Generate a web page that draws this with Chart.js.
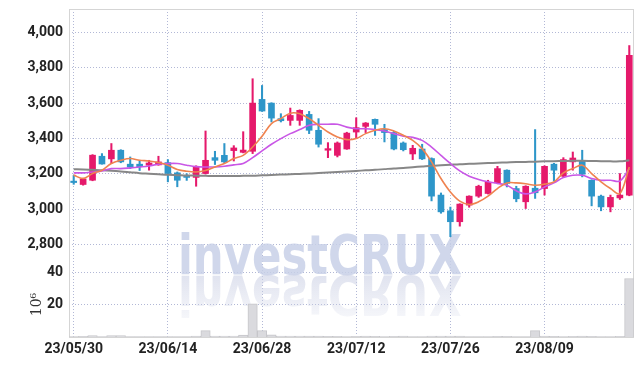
<!DOCTYPE html>
<html>
<head>
<meta charset="utf-8">
<script src="https://cdn.jsdelivr.net/npm/chart.js@4.4.0/dist/chart.umd.min.js"></script>
<style>
html, body { margin: 0; padding: 0; background: #fff; }
#wrap { width: 643px; height: 366px; }
</style>
</head>
<body>
<div id="wrap"><canvas id="chart"></canvas></div>
<script>
const dates = [
  '23/05/30','23/05/31','23/06/01','23/06/02','23/06/05','23/06/07','23/06/08','23/06/09','23/06/12','23/06/13',
  '23/06/14','23/06/15','23/06/16','23/06/19','23/06/20','23/06/21','23/06/22','23/06/23','23/06/26','23/06/27',
  '23/06/28','23/06/29','23/06/30','23/07/03','23/07/04','23/07/05','23/07/06','23/07/07','23/07/10','23/07/11',
  '23/07/12','23/07/13','23/07/14','23/07/17','23/07/18','23/07/19','23/07/20','23/07/21','23/07/24','23/07/25',
  '23/07/26','23/07/27','23/07/28','23/07/31','23/08/01','23/08/02','23/08/03','23/08/04','23/08/07','23/08/08',
  '23/08/09','23/08/10','23/08/11','23/08/14','23/08/16','23/08/17','23/08/18','23/08/21','23/08/22','23/08/23'
];

const opens = [
  3158,3139,3163,3299,3284,3333,3254,3254,3248,3250,
  3263,3205,3186,3179,3201,3291,3304,3331,3321,3327,
  3621,3600,3512,3502,3502,3536,3446,3333,3304,3340,
  3436,3468,3508,3450,3433,3374,3312,3340,3286,3079,
  2990,2928,3022,3073,3088,3148,3220,3116,3041,3118,
  3116,3254,3186,3267,3272,3163,3073,3012,3063,3078
];
const highs = [
  3190,3175,3308,3314,3371,3336,3295,3276,3276,3299,
  3280,3210,3200,3245,3442,3327,3371,3359,3438,3738,
  3700,3602,3540,3572,3562,3553,3512,3376,3380,3435,
  3517,3490,3510,3480,3440,3380,3361,3367,3290,3091,
  3011,3030,3075,3135,3163,3242,3222,3129,3132,3450,
  3245,3259,3291,3323,3333,3166,3079,3079,3201,3926
];
const lows = [
  3140,3135,3160,3254,3257,3262,3229,3218,3220,3248,
  3154,3126,3162,3129,3198,3252,3262,3272,3318,3314,
  3553,3493,3493,3474,3474,3427,3351,3291,3295,3338,
  3399,3433,3417,3380,3335,3329,3280,3280,3046,2976,
  2843,2903,3010,3066,3085,3143,3125,3041,3003,3060,
  3079,3159,3180,3220,3182,3018,2990,2984,3054,3075
];
const closes = [
  3150,3170,3305,3255,3333,3267,3238,3240,3261,3267,
  3201,3163,3179,3242,3276,3276,3267,3346,3334,3600,
  3555,3515,3500,3530,3559,3446,3367,3342,3374,3430,
  3461,3487,3480,3433,3340,3336,3344,3284,3073,2984,
  2928,3028,3073,3129,3152,3229,3145,3058,3129,3092,
  3242,3220,3280,3289,3197,3073,3012,3066,3079,3870
];

const maShort = [
  3192,3173,3201,3220,3258,3276,3286,3276,3272,3263,
  3248,3224,3214,3210,3218,3238,3258,3286,3304,3351,
  3412,3484,3512,3543,3540,3512,3474,3436,3408,3393,
  3399,3427,3446,3455,3442,3418,3389,3342,3267,3173,
  3097,3045,3026,3041,3073,3116,3148,3148,3143,3135,
  3141,3154,3205,3229,3248,3201,3154,3116,3088,3238
];
const maMid = [
  3205,3205,3210,3216,3229,3229,3233,3238,3244,3254,
  3258,3258,3248,3240,3238,3238,3242,3250,3258,3291,
  3329,3367,3399,3427,3450,3474,3480,3480,3480,3464,
  3455,3455,3450,3442,3427,3412,3406,3389,3351,3304,
  3258,3216,3186,3167,3154,3145,3135,3103,3086,3097,
  3125,3148,3178,3191,3191,3173,3163,3163,3159,3229
];
const maLong = [
  3225,3224,3222,3220,3217,3213,3208,3203,3200,3197,
  3194,3192,3190,3189,3188,3187,3187,3187,3188,3189,
  3191,3193,3195,3197,3199,3201,3204,3207,3210,3213,
  3216,3219,3222,3226,3230,3233,3237,3241,3245,3248,
  3251,3254,3256,3258,3260,3262,3264,3266,3267,3268,
  3270,3271,3272,3273,3273,3272,3271,3270,3270,3276
];

// volume, millions
const volumes = [
  0.3,0.4,0.8,0.3,0.8,0.8,0.3,0.3,0.2,0.3,
  0.3,0.3,0.3,0.5,3.9,0.6,0.6,0.6,1.2,20.4,
  3.9,1.3,0.6,0.6,0.6,0.5,0.5,0.4,0.4,0.3,
  0.4,0.5,0.4,0.3,0.4,0.5,0.3,0.3,0.6,0.6,
  0.6,0.5,0.3,0.3,0.3,0.4,0.4,0.3,0.3,3.9,
  0.5,0.4,0.3,0.4,0.5,0.4,0.3,0.3,0.4,36
];

const priceTicks = [2800, 3000, 3200, 3400, 3600, 3800, 4000];
const volumeTicks = [20, 40];

const UP = '#e5196b';
const DOWN = '#2e96c9';
const GRID = 'rgba(170,176,210,0.9)';
const FONT = "Roboto, 'DejaVu Sans', sans-serif";
const MARK_FONT = "'DejaVu Sans Condensed', 'DejaVu Sans', sans-serif";

const candleColors = opens.map((o, i) => closes[i] >= o ? UP : DOWN);

// fixed axis sizes so the plot box lands where the original one is
const fitY = s => { s.width = 44; s.paddingTop = 0; s.paddingBottom = 0; };
const fitX = s => { s.height = 29; s.paddingLeft = 0; s.paddingRight = 0; };

const frame = {
  id: 'frame',
  beforeDatasetsDraw(chart) {
    const ctx = chart.ctx;
    const a = chart.chartArea;
    ctx.save();
    ctx.strokeStyle = '#d5d5d5';
    ctx.lineWidth = 1;
    ctx.strokeRect(Math.round(a.left) + 0.5, Math.round(a.top) + 0.5,
      Math.round(a.right - a.left) - 1, Math.round(a.bottom - a.top));

    // watermark with reflection
    const text = 'investCRUX';
    const left = 178, width = 284, base = 274;
    ctx.font = 'bold 56px ' + MARK_FONT;
    const sx = width / ctx.measureText(text).width;
    ctx.translate(left, base);
    ctx.scale(sx, 1);
    ctx.fillStyle = 'rgba(200,208,232,0.85)';
    ctx.fillText(text, 0, 0);
    ctx.scale(1, -1);
    ctx.translate(0, -2);
    const g = ctx.createLinearGradient(0, 0, 0, -46);
    g.addColorStop(0, 'rgba(204,209,229,0.6)');
    g.addColorStop(1, 'rgba(204,209,229,0.15)');
    ctx.fillStyle = g;
    ctx.fillText(text, 0, 0);
    ctx.restore();
  }
};

new Chart(document.getElementById('chart'), {
  data: {
    labels: dates,
    datasets: [
      { type: 'line', data: maShort, yAxisID: 'y', borderColor: '#ef8350', borderWidth: 1.6,
        pointRadius: 0, tension: 0.35, order: 0 },
      { type: 'line', data: maMid, yAxisID: 'y', borderColor: '#c957e6', borderWidth: 1.6,
        pointRadius: 0, tension: 0.35, order: 0 },
      { type: 'line', data: maLong, yAxisID: 'y', borderColor: '#878787', borderWidth: 2,
        pointRadius: 0, tension: 0.35, order: 0 },
      { type: 'bar', data: opens.map((o, i) => [o, closes[i]]), yAxisID: 'y',
        backgroundColor: candleColors, barThickness: 6, grouped: false, order: 1 },
      { type: 'bar', data: lows.map((l, i) => [l, highs[i]]), yAxisID: 'y',
        backgroundColor: candleColors, barThickness: 1.4, grouped: false, order: 2 },
      { type: 'bar', data: volumes, yAxisID: 'y2', backgroundColor: '#dadade',
        borderColor: '#c6c6ca', borderWidth: 1, barPercentage: 1, categoryPercentage: 1,
        grouped: false, order: 3 }
    ]
  },
  options: {
    responsive: true,
    maintainAspectRatio: false,
    animation: false,
    layout: { padding: { left: 25, right: 9, top: 9, bottom: 0 } },
    plugins: { legend: { display: false }, tooltip: { enabled: false } },
    scales: {
      x: {
        type: 'category',
        offset: true,
        afterFit: fitX,
        grid: {
          offset: false,
          drawTicks: false,
          color: c => c.index % 10 === 0 ? GRID : 'rgba(0,0,0,0)'
        },
        border: { display: false, dash: [1, 2] },
        ticks: {
          autoSkip: false, maxRotation: 0, padding: 4, color: '#222',
          font: { family: FONT, size: 14, weight: 'bold' },
          callback: (v, i) => i % 10 === 0 ? dates[i] : ''
        }
      },
      y: {
        position: 'left', stack: 'panes', stackWeight: 4.05, weight: 2,
        min: 2643, max: 4133,
        afterFit: fitY,
        afterBuildTicks: s => { s.ticks = priceTicks.map(v => ({ value: v })); },
        grid: { color: GRID, drawTicks: false },
        border: { display: false, dash: [1, 2] },
        ticks: {
          padding: 6, color: '#222',
          font: { family: FONT, size: 14, weight: 'bold' },
          callback: v => v.toLocaleString('en-US')
        }
      },
      y2: {
        position: 'left', stack: 'panes', stackWeight: 1, weight: 1,
        min: 0, max: 40,
        afterFit: fitY,
        afterBuildTicks: s => { s.ticks = volumeTicks.map(v => ({ value: v })); },
        grid: { color: GRID, drawTicks: false },
        border: { display: false, dash: [1, 2] },
        title: { display: true, text: '10⁶', color: '#333', padding: { top: 4, bottom: 6 },
          font: { family: 'DejaVu Serif', size: 14 } },
        ticks: {
          padding: 6, color: '#222',
          font: { family: FONT, size: 14, weight: 'bold' }
        }
      }
    }
  },
  plugins: [frame]
});
</script>
</body>
</html>
